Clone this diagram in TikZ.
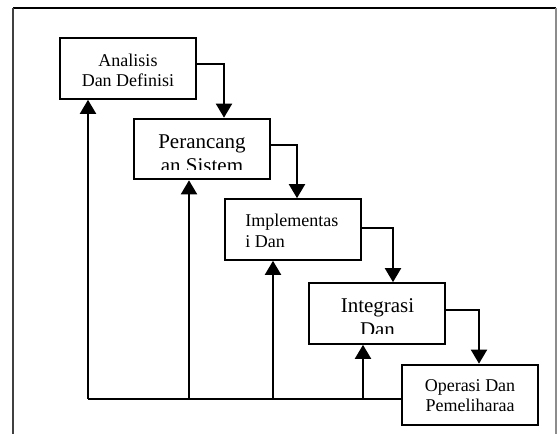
\documentclass[tikz,border=0pt]{standalone}
\usepackage{fontspec}
\setmainfont{Liberation Serif}
\usetikzlibrary{positioning, arrows.meta}

\begin{document}
\begin{tikzpicture}[
    x=0.75pt, y=-0.75pt,
    stage/.style={draw, line width=1.5pt, minimum width=102pt, minimum height=45.5pt, inner sep=0pt},
    smalltext/.style={inner sep=0pt, align=center, font=\fontsize{13.5}{15}\selectfont},
    bigtext/.style={inner sep=0pt, align=center, font=\fontsize{15.75}{18}\selectfont},
    flow/.style={line width=1.5pt, -{Triangle[width=12pt, length=10.5pt]}},
    link/.style={line width=1.5pt}
]
    \useasboundingbox (0,0) rectangle (557,434);

    % FRAME
    \draw[line width=1.5pt] (13,8) -- (556,8);
    \draw[line width=1pt, black!75] (13,8) -- (13,434);
    \draw[line width=0.8pt, black!45] (556,8) -- (556,434);

    % NODES
    \node[stage] (analisis) at (128,68.5) {};
    \node[stage] (perancangan) at (202,149) {};
    \node[stage] (implementasi) at (293,229.5) {};
    \node[stage] (integrasi) at (376.5,313.5) {};
    \node[stage] (operasi) at (470,395) {};

    % base anchor sits on the last line
    \node[smalltext, anchor=base] (analisis_txt) at (128,87) {Analisis\\Dan Definisi};
    \begin{scope}
        \clip (perancangan.north west) rectangle ([yshift=8.25pt]perancangan.south east);
        \node[bigtext, anchor=base] (perancangan_txt) at (202,173) {Perancang\\an Sistem};
    \end{scope}
    \node[smalltext, align=left, anchor=base west, font=\fontsize{13.5}{15.75}\selectfont] (implementasi_txt) at (245,248) {Implementas\\i Dan};
    \begin{scope}
        \clip (integrasi.north west) rectangle ([yshift=8.25pt]integrasi.south east);
        \node[bigtext, anchor=base] (integrasi_txt) at (377.5,337) {Integrasi\\Dan};
    \end{scope}
    \node[smalltext, anchor=base] (operasi_txt) at (470,412) {Operasi Dan\\Pemeliharaa};

    \coordinate (dn1) at (224,64);
    \coordinate (dn2) at (297,145);
    \coordinate (dn3) at (393,228);
    \coordinate (dn4) at (479,310);
    \coordinate (corner) at (88,399);
    \coordinate (up2) at (189,399);
    \coordinate (up3) at (273,399);
    \coordinate (up4) at (363,399);

    % EDGES
    \draw[flow] (analisis.east |- dn1) -- (dn1) -- (dn1 |- perancangan.north);
    \draw[flow] (perancangan.east |- dn2) -- (dn2) -- (dn2 |- implementasi.north);
    \draw[flow] (implementasi.east |- dn3) -- (dn3) -- (dn3 |- integrasi.north);
    \draw[flow] (integrasi.east |- dn4) -- (dn4) -- (dn4 |- operasi.north);

    \draw[link] (operasi.west |- corner) -- (corner);
    \draw[flow] (corner) -- (corner |- analisis.south);
    \draw[flow] (up2) -- (up2 |- perancangan.south);
    \draw[flow] (up3) -- (up3 |- implementasi.south);
    \draw[flow] (up4) -- (up4 |- integrasi.south);

\end{tikzpicture}
\end{document}
